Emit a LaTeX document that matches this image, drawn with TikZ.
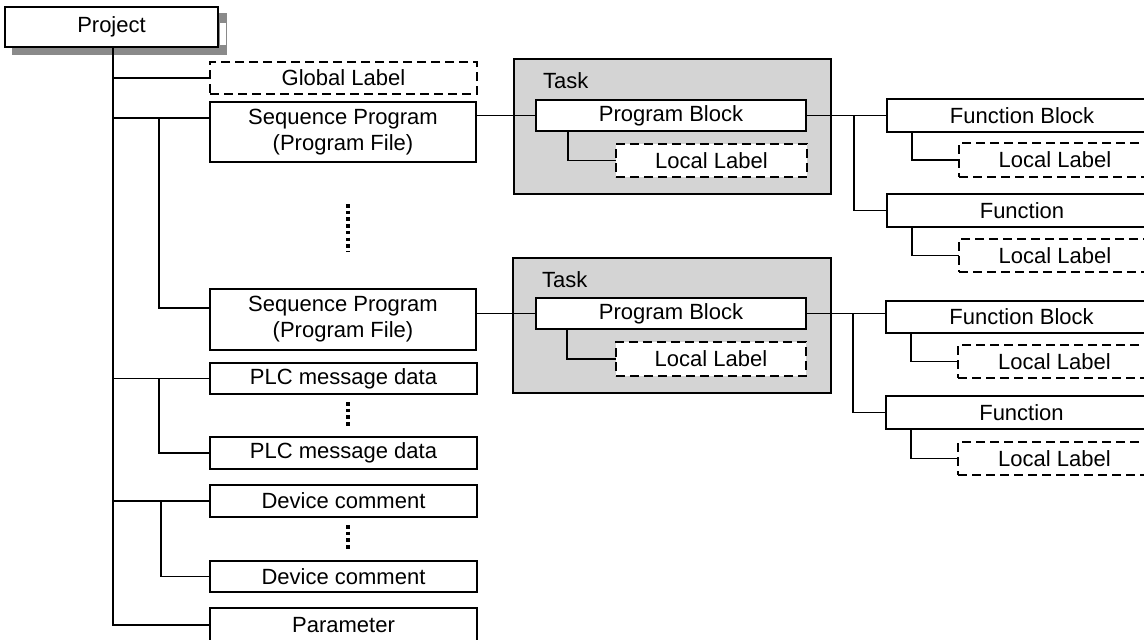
\documentclass[tikz,border=0pt]{standalone}
\usepackage{fontspec}
\setmainfont{Liberation Sans}
\usetikzlibrary{calc}
\definecolor{taskgray}{RGB}{212,212,212}
\definecolor{shadowgray}{RGB}{138,138,138}
\tikzset{
  box/.style={draw, line width=2.1pt, fill=white, inner sep=0pt, outer sep=0pt, align=center, font=\fontsize{22}{26}\selectfont},
  dbox/.style={box, dash pattern=on 9pt off 5pt, line width=2.9pt},
  conn/.style={line width=1.9pt},
  taskbox/.style={draw, line width=1.9pt, fill=taskgray, inner sep=0pt, outer sep=0pt},
  vdots/.style={line width=4pt, dash pattern=on 3.6pt off 3.1pt},
  tasklabel/.style={anchor=base west, inner sep=0pt, font=\fontsize{22}{26}\selectfont},
}
\newcommand{\rbox}[7]{\node[#1,minimum width={(#5-#3)*1pt},minimum height={(#6-#4)*1pt}] (#2) at ({(#3+#5)/2},{(#4+#6)/2}) {#7};}
\begin{document}
\begin{tikzpicture}[x=1pt,y=-1pt]
\clip (0,0) rectangle (1144,640);
\fill[white] (0,0) rectangle (1144,640);
% project with shadow
\fill[shadowgray] (12,13) rectangle (227,55);
\fill[white] (220,23) rectangle (226,45);
\rbox{box}{proj}{5}{7}{218}{47}{Project}
% left column
\rbox{dbox}{gl}{210}{62}{477}{94}{Global Label}
\rbox{box}{sp1}{210}{102}{476}{162}{Sequence Program\\(Program File)}
\rbox{box}{sp2}{210}{289}{476}{350}{Sequence Program\\(Program File)}
\rbox{box}{plc1}{210}{363}{477}{394}{PLC message data}
\rbox{box}{plc2}{210}{437}{477}{469}{PLC message data}
\rbox{box}{dc1}{210}{485}{477}{517}{Device comment}
\rbox{box}{dc2}{210}{561}{477}{592}{Device comment}
\rbox{box}{param}{210}{608}{477}{642}{Parameter}
% task 1
\rbox{taskbox}{task1}{514}{59}{831}{194}{}
\node[tasklabel] (t1lab) at ($(task1.north west)+(29,29)$) {Task};
\rbox{box}{pb1}{536}{100}{806}{131}{Program Block}
\rbox{dbox}{ll1}{616}{144}{807}{177}{Local Label}
% task 2
\rbox{taskbox}{task2}{513}{258}{831}{393}{}
\node[tasklabel] (t2lab) at ($(task2.north west)+(29,29)$) {Task};
\rbox{box}{pb2}{536}{298}{806}{329}{Program Block}
\rbox{dbox}{ll2}{616}{342}{806}{376}{Local Label}
% right group 1
\rbox{box}{fb1}{887}{99}{1157}{132}{Function Block}
\rbox{dbox}{fbl1}{959}{143}{1151}{177}{Local Label}
\rbox{box}{fn1}{887}{194}{1157}{227}{Function}
\rbox{dbox}{fnl1}{959}{239}{1151}{272}{Local Label}
% right group 2
\rbox{box}{fb2}{886}{301}{1157}{333}{Function Block}
\rbox{dbox}{fbl2}{958}{345}{1151}{378}{Local Label}
\rbox{box}{fn2}{886}{396}{1157}{429}{Function}
\rbox{dbox}{fnl2}{958}{442}{1151}{475}{Local Label}
% connectors: trunk
\coordinate (trunk) at ($(proj.south west)+(108,0)$);
\draw[conn] (trunk) |- (param.west);
\draw[conn] (trunk |- gl.west) -- (gl.west);
\coordinate (sp1j) at ($(sp1.north west)+(0,16)$);
\coordinate (sp2j) at ($(sp2.north west)+(0,19)$);
\draw[conn] (trunk |- sp1j) -- (sp1j);
\draw[conn] ($(sp1j)+(-51,0)$) |- (sp2j);
\draw[conn] (trunk |- plc1.west) -- (plc1.west);
\draw[conn] ($(plc1.west)+(-51,0)$) |- (plc2.west);
\draw[conn] (trunk |- dc1.west) -- (dc1.west);
\draw[conn] ($(dc1.west)+(-49,0)$) |- (dc2.west);
% to program blocks
\draw[conn] (pb1.west -| sp1.east) -- (pb1.west);
\draw[conn] (pb2.west -| sp2.east) -- (pb2.west);
\draw[conn] ($(pb1.south west)+(32,0)$) |- (ll1.west);
\draw[conn] ($(pb2.south west)+(31,0)$) |- (ll2.west);
% to function blocks
\draw[conn] (pb1.east) -- (pb1.east -| fb1.west);
\draw[conn] ($(pb1.east -| fb1.west)+(-33,0)$) |- (fn1.west);
\draw[conn] ($(fb1.south west)+(25,0)$) |- (fbl1.west);
\draw[conn] ($(fn1.south west)+(25,0)$) |- (fnl1.west);
\draw[conn] (pb2.east) -- (pb2.east -| fb2.west);
\draw[conn] ($(pb2.east -| fb2.west)+(-33,0)$) |- (fn2.west);
\draw[conn] ($(fb2.south west)+(25,0)$) |- (fbl2.west);
\draw[conn] ($(fn2.south west)+(25,0)$) |- (fnl2.west);
% vertical ellipsis dots
\draw[vdots] ($(sp1.south west)+(138,42)$) -- ($(sp1.south west)+(138,90)$);
\draw[vdots] ($(plc1.south west)+(138,8)$) -- ($(plc1.south west)+(138,34)$);
\draw[vdots] ($(dc1.south west)+(138,8)$) -- ($(dc1.south west)+(138,32)$);
\end{tikzpicture}
\end{document}
